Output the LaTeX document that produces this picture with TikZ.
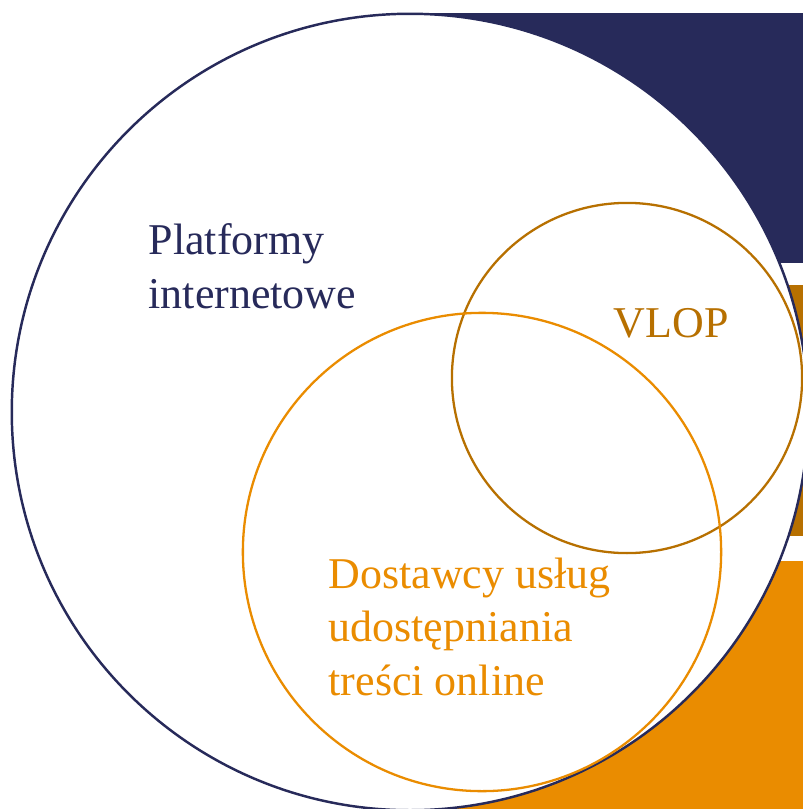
\documentclass[tikz,border=0pt]{standalone}
\usepackage{fontspec}
\setmainfont{Liberation Serif}
\usepackage{xcolor}
\usepackage{tikz}
\usetikzlibrary{positioning,calc}

\definecolor{dsanavy}{RGB}{39,42,90}
\definecolor{dsabrown}{RGB}{183,112,0}
\definecolor{dsaorange}{RGB}{234,140,0}

\tikzset{
  venntext/.style={anchor=base west, inner sep=0pt, align=left,
    font=\fontsize{12.5}{15.1}\selectfont},
}

\begin{document}
\begin{tikzpicture}[x=0.01cm, y=-0.01cm]
    \useasboundingbox (0,0) rectangle (803,809);
    \clip (0,0) rectangle (803,809);
    % Bars
    \fill[dsanavy] (409,13) rectangle (803,263);
    \fill[dsabrown] (700,285) rectangle (803,536);
    \fill[dsaorange] (409,561) rectangle (803,809);

    % Circles
    \draw[dsanavy, line width=0.7pt, fill=white] (410,412) circle[radius=3.98cm];
    \draw[dsabrown, line width=0.65pt] (627,378) circle[radius=1.75cm];
    \draw[dsaorange, line width=0.65pt] (482,552) circle[radius=2.39cm];

    % Labels (anchor = baseline of the last line)
    \node[venntext, text=dsanavy] (platformy) at (148,308) {Platformy\\internetowe};
    \node[venntext, text=dsabrown] (vlop) at (613,337) {VLOP};
    \node[venntext, text=dsaorange] (dostawcy) at (328,695) {Dostawcy usług\\udostępniania\\treści online};
\end{tikzpicture}
\end{document}
